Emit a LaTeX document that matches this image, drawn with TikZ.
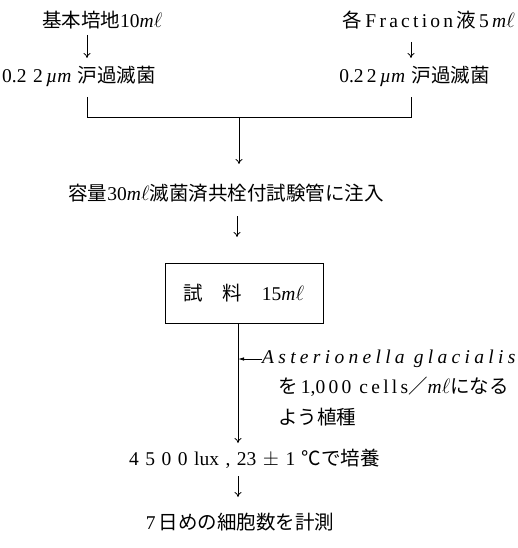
\documentclass[tikz,border=0pt]{standalone}
\usepackage{fontspec}
\setmainfont{Liberation Serif}
\usetikzlibrary{arrows.meta}
\newfontfamily\jp{Noto Sans CJK JP}
\newcommand\J[1]{{\jp #1}}
\newcommand\ml{{\itshape m}$\ell$}
\begin{document}
\begin{tikzpicture}[x=1pt,y=-1pt,
  txt/.style={inner sep=0pt,font=\fontsize{19.5}{23}\selectfont},
  ln/.style={line width=0.8pt},
  arr/.style={line width=0.8pt,-{To[length=5pt,width=7pt]}},
  sidearr/.style={line width=0.8pt,-{Latex[length=6pt,width=3.5pt]}},
  boxst/.style={draw,line width=0.9pt,minimum width=158pt,minimum height=60pt,inner sep=0pt,font=\fontsize{19.5}{23}\selectfont}]
\useasboundingbox (0,0) rectangle (518,548);
% top sources
\node[txt,anchor=west] (a1) at (42,20) {\J{基本培地}10\ml};
\node[txt,anchor=east] (a2) at (515,20) {\J{各}\,F\,r\,a\,c\,t\,i\,o\,n\,\J{液}\,5\,\ml};
% filtration
\node[txt,anchor=west] (b1) at (2,76) {0.2\,\,2\,{\itshape\textmu m}\,\,\J{沪過滅菌}};
\node[txt,anchor=east] (b2) at (490,76) {0.2\,2\,{\itshape\textmu m}\,\,\J{沪過滅菌}};
\coordinate (a1s) at (87,35);  \coordinate (b1n) at (87,58);
\coordinate (a2s) at (411,42); \coordinate (b2n) at (411,58);
\draw[arr] (a1s) -- (b1n);
\draw[arr] (a2s) -- (b2n);
% bracket
\coordinate (b1s) at (87,97); \coordinate (b2s) at (411,97);
\coordinate (jl) at (87,117); \coordinate (jr) at (411,117); \coordinate (jc) at (239,117);
\draw[ln] (b1s) -- (jl) -- (jr) -- (b2s);
% injection
\node[txt] (c) at (226,193) {\J{容量}30\ml\J{滅菌済共栓付試験管に注入}};
\draw[arr] (jc) -- (239,164) coordinate (cn);
\coordinate (cs) at (237,216); \coordinate (dn) at (237,237);
\draw[arr] (cs) -- (dn);
% sample box
\node[boxst] (d) at (244,293) {\J{試}\quad\J{料}\quad 15\ml};
% inoculation
\coordinate (ds) at (238,323);
\coordinate (en) at (238,443);
\draw[arr] (ds) -- (en);
\coordinate (tap) at (238,359);
\node[txt,anchor=west] (s1) at (262,359) {\itshape\addfontfeature{LetterSpace=22}Asterionella glacialis};
\draw[sidearr] (s1.west) -- (tap);
\node[txt,anchor=west] (s2) at (278,387) {\J{を}\,1,0\,0\,0\, c\,e\,l\,l\,s\J{／}\ml\J{になる}};
\node[txt,anchor=west] (s3) at (278,417) {\J{よう植種}};
% culture
\node[txt,anchor=east] (e) at (380,459) {4\,\,5\,\,0\,\,0\,\,lux\,\,,\,\,23\,\,$\pm$\,\,1\,\,\J{℃で培養}};
\coordinate (es) at (238,476); \coordinate (fn) at (238,497);
\draw[arr] (es) -- (fn);
\node[txt] (f) at (240,522) {7\,\J{日めの細胞数を計測}};
\end{tikzpicture}
\end{document}
